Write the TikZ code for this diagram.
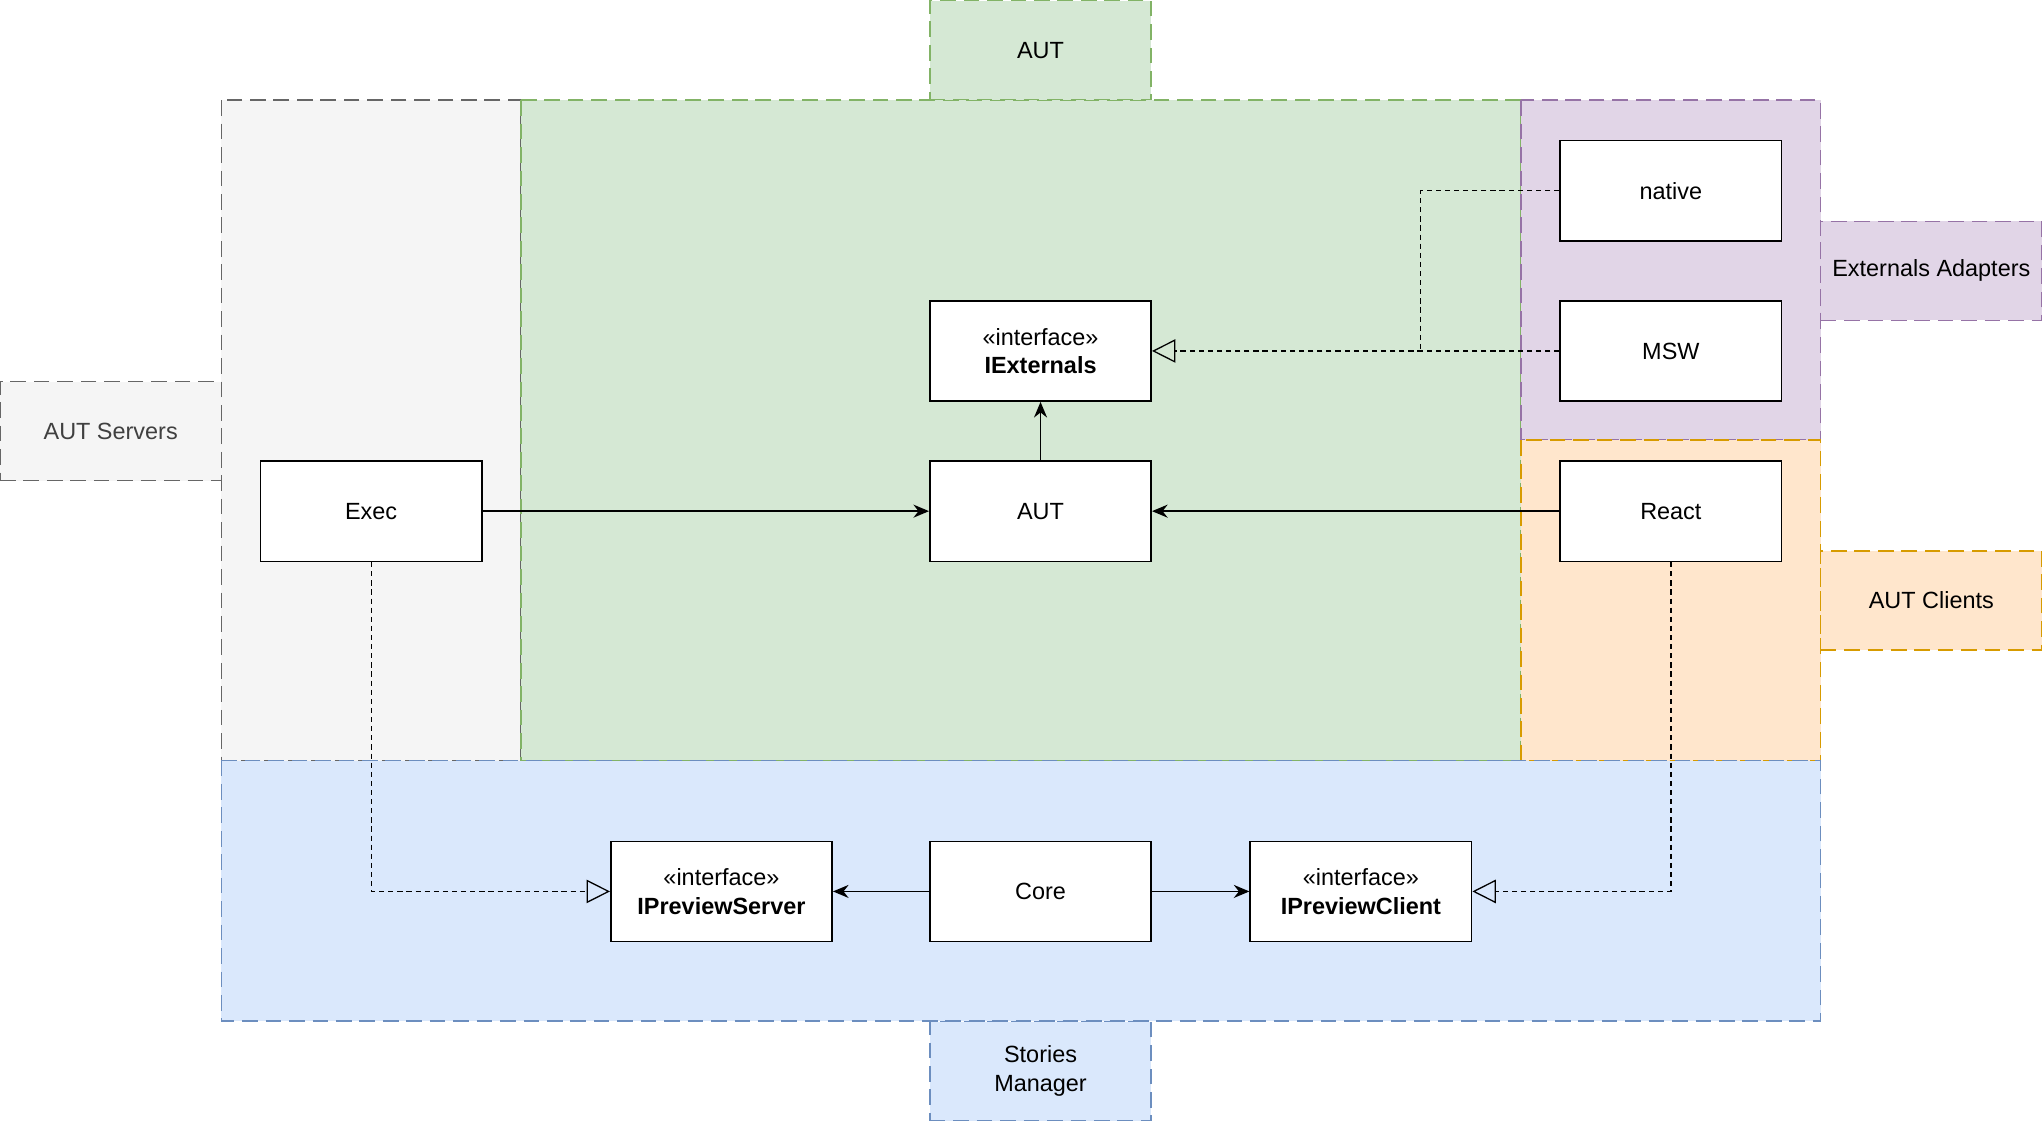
\documentclass[tikz,border=0pt]{standalone}
\usepackage{fontspec}
\setmainfont{Liberation Sans}
\usetikzlibrary{arrows.meta}
\definecolor{gfill}{HTML}{F5F5F5}\definecolor{gline}{HTML}{666666}
\definecolor{grfill}{HTML}{D5E8D4}\definecolor{grline}{HTML}{82B366}
\definecolor{pfill}{HTML}{E1D5E7}\definecolor{pline}{HTML}{9673A6}
\definecolor{ofill}{HTML}{FFE6CC}\definecolor{oline}{HTML}{D79B00}
\definecolor{bfill}{HTML}{DAE8FC}\definecolor{bline}{HTML}{6C8EBF}
\tikzset{
 region/.style={dash pattern=on 6pt off 3pt, line width=0.6pt},
 cls/.style={draw, fill=white, line width=0.6pt, minimum width=85pt, minimum height=38.5pt, inner sep=0pt, align=center, font=\fontsize{9}{11}\selectfont},
 lbl/.style={region, minimum width=85pt, minimum height=38pt, inner sep=0pt, align=center, font=\fontsize{9}{11}\selectfont},
 solidarr/.style={-{Stealth[length=6pt,width=5pt]}, line width=0.6pt},
 real/.style={dash pattern=on 2pt off 1.5pt, line width=0.5pt, -{Triangle[open,length=9pt,width=9pt]}},
 dline/.style={dash pattern=on 2pt off 1.5pt, line width=0.5pt}
}
\begin{document}
\begin{tikzpicture}[x=0.5pt,y=-0.5pt]
\useasboundingbox (0,0) rectangle (1568,862);
\draw[region,fill=gfill,draw=gline] (170,77) rectangle (400,584);
\draw[region,fill=grfill,draw=grline] (400,77) rectangle (1168,584);
\draw[region,fill=pfill,draw=pline] (1168,77) rectangle (1398,338);
\draw[region,fill=ofill,draw=oline] (1168,338) rectangle (1398,584);
\draw[region,fill=bfill,draw=bline] (170,584) rectangle (1398,784);
\node[lbl,fill=grfill,draw=grline] (lAUT) at (799,38.5) {AUT};
\node[lbl,fill=gfill,draw=gline,text=black!75] (lSrv) at (85,331) {AUT Servers};
\node[lbl,fill=pfill,draw=pline] (lExt) at (1483,208) {Externals Adapters};
\node[lbl,fill=ofill,draw=oline] (lCli) at (1483,461) {AUT Clients};
\node[lbl,fill=bfill,draw=bline] (lSto) at (799,822.5) {Stories\\Manager};
\node[cls] (native) at (1283,146.5) {native};
\node[cls] (msw) at (1283,269.5) {MSW};
\node[cls] (iext) at (799,269.5) {«interface»\\\textbf{IExternals}};
\node[cls] (aut) at (799,392.5) {AUT};
\node[cls] (exec) at (285,392.5) {Exec};
\node[cls] (react) at (1283,392.5) {React};
\node[cls] (ips) at (554,684.5) {«interface»\\\textbf{IPreviewServer}};
\node[cls] (core) at (799,684.5) {Core};
\node[cls] (ipc) at (1045,684.5) {«interface»\\\textbf{IPreviewClient}};
\draw[solidarr] (exec) -- (aut);
\draw[solidarr] (react) -- (aut);
\draw[solidarr] (aut) -- (iext);
\draw[solidarr] (core) -- (ips);
\draw[solidarr] (core) -- (ipc);
\draw[real] (msw) -- (iext);
\coordinate (j) at (1091,269.5);
\draw[dline] (native.west) -| (j);
\draw[real] (exec.south) |- (ips.west);
\draw[real] (react.south) |- (ipc.east);
\end{tikzpicture}
\end{document}
